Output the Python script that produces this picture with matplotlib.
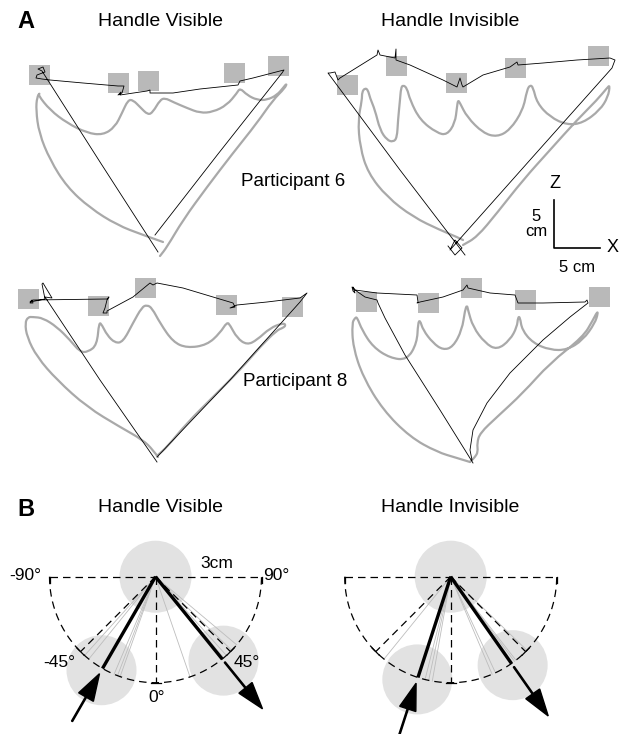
import numpy as np
import matplotlib
matplotlib.use("Agg")
import matplotlib.pyplot as plt
from matplotlib.patches import Rectangle, Circle, PathPatch
from matplotlib.path import Path

plt.rcParams['font.family'] = ['Liberation Sans', 'DejaVu Sans']

# ---------------- Panel A data (reference pixel frame) ----------------
# target squares (centres)
p6_vis_targets_x = [39, 118, 148, 234, 278]
p6_vis_targets_y = [75, 83, 81, 73, 66]
p6_inv_targets_x = [347, 396, 456, 515, 598]
p6_inv_targets_y = [85, 66, 83, 68, 56]
p8_vis_targets_x = [28, 98, 145, 226, 292]
p8_vis_targets_y = [299, 306, 288, 305, 307]
p8_inv_targets_x = [366, 428, 471, 525, 599]
p8_inv_targets_y = [302, 303, 288, 300, 297]

# black (handle) trajectories
p6_vis_black = [(158, 252), (100, 162), (42, 71), (38, 69), (43, 67), (45, 72), (37, 75), (36, 78),
                (42, 79), (50, 80), (83, 83), (118, 86), (124, 86), (122, 93), (118, 95), (121, 92),
                (120, 95), (147, 91), (150, 90), (150, 93), (173, 93), (200, 89), (238, 85), (240, 81),
                (253, 78), (280, 71), (284, 70), (282, 73), (218, 154), (155, 235)]
p6_inv_black = [(465, 255), (400, 170), (328, 73), (330, 73), (335, 72), (338, 80), (340, 78), (377, 55),
                (378, 50), (380, 55), (395, 58), (396, 49), (396, 60), (410, 65), (443, 80), (457, 87),
                (460, 78), (462, 85), (463, 87), (483, 75), (510, 67), (517, 62), (518, 65), (543, 63),
                (577, 60), (610, 58), (615, 60), (612, 68), (530, 160), (450, 250), (455, 240), (462, 248),
                (455, 255), (448, 246)]
p8_vis_black = [(157, 462), (100, 380), (45, 297), (52, 298), (43, 283), (42, 284), (45, 299), (30, 302),
                (32, 300), (33, 303), (30, 303), (33, 300), (107, 299), (109, 297), (107, 300), (105, 308),
                (103, 313), (107, 313), (107, 311), (133, 297), (150, 283), (153, 285), (157, 283),
                (183, 288), (213, 297), (233, 303), (235, 307), (230, 308), (237, 305), (267, 302),
                (300, 298), (307, 293), (300, 302), (230, 380), (157, 457)]
p8_inv_black = [(473, 463), (440, 410), (405, 355), (385, 318), (378, 303), (377, 300), (365, 297),
                (355, 290), (352, 287), (353, 291), (355, 293), (353, 287), (355, 290), (377, 293),
                (417, 295), (418, 302), (417, 303), (420, 302), (443, 297), (463, 290), (467, 285),
                (468, 288), (490, 293), (515, 295), (518, 303), (520, 303), (543, 303), (585, 302),
                (587, 300), (588, 303), (570, 317), (543, 340), (510, 373), (487, 403), (473, 430),
                (470, 450), (472, 460)]

# grey (hand) trajectories
p6_vis_gray = [(163, 242), (143, 235), (117, 225), (90, 208), (67, 187), (50, 160), (39, 133), (36, 110),
               (37, 97), (40, 93), (38, 95), (50, 110), (67, 123), (87, 133), (103, 135), (115, 127),
               (122, 113), (128, 100), (133, 100), (140, 107), (148, 115), (153, 112), (160, 100),
               (165, 98), (173, 102), (187, 108), (200, 113), (213, 112), (227, 105), (237, 93),
               (240, 88), (247, 95), (257, 100), (267, 100), (277, 95), (283, 88), (287, 83),
               (285, 88), (273, 100), (257, 123), (233, 153), (207, 187), (183, 220), (167, 247), (160, 256)]
p6_inv_gray = [(463, 240), (457, 237), (440, 230), (413, 217), (387, 197), (368, 173), (360, 147),
               (358, 120), (362, 100), (362, 92), (365, 88), (368, 90), (370, 98), (375, 110), (380, 130),
               (387, 140), (393, 142), (397, 138), (398, 120), (400, 100), (401, 88), (403, 85), (407, 88),
               (410, 100), (420, 120), (437, 133), (447, 135), (455, 123), (457, 107), (458, 100),
               (460, 103), (467, 117), (483, 133), (497, 137), (510, 130), (523, 110), (527, 90),
               (530, 85), (533, 87), (537, 103), (550, 117), (567, 125), (583, 123), (600, 110),
               (608, 97), (610, 85), (607, 88), (597, 100), (577, 120), (550, 150), (523, 180),
               (497, 213), (477, 237), (463, 245)]
p8_vis_gray = [(158, 457), (153, 450), (143, 440), (120, 427), (87, 407), (57, 380), (37, 357), (27, 337),
               (25, 323), (28, 317), (33, 317), (43, 318), (57, 327), (70, 340), (80, 352), (88, 352),
               (97, 345), (99, 322), (102, 325), (107, 335), (115, 343), (123, 342), (133, 323),
               (142, 307), (147, 305), (152, 308), (160, 323), (173, 342), (187, 348), (207, 345),
               (220, 333), (227, 322), (230, 325), (237, 338), (247, 345), (257, 340), (270, 328),
               (283, 323), (286, 325), (283, 328), (277, 330), (260, 347), (240, 370), (213, 397),
               (187, 423), (167, 447), (158, 455)]
p8_inv_gray = [(470, 462), (457, 458), (437, 452), (410, 437), (383, 410), (363, 377), (353, 347),
               (352, 323), (355, 318), (357, 317), (362, 330), (373, 347), (390, 358), (407, 360),
               (417, 343), (418, 323), (420, 320), (423, 330), (433, 343), (443, 350), (453, 347),
               (462, 330), (465, 310), (467, 305), (468, 310), (473, 327), (485, 343), (497, 350),
               (510, 340), (517, 327), (518, 317), (520, 317), (522, 330), (533, 343), (550, 350),
               (567, 350), (583, 340), (595, 323), (598, 313), (597, 312), (593, 320), (583, 337),
               (550, 363), (523, 393), (497, 417), (480, 433), (477, 443), (478, 452), (475, 457),
               (470, 462)]

# ---------------- Panel B data (angles in degrees, 0 = straight down) ----------------
vis_mean_angles = [-30, 39]
vis_trial_angles = [-42, -39, -23, -21, -19.5, 19, 40, 42, 46, 50]
inv_mean_angles = [-18, 35]
inv_trial_angles = [-39, -14, -12, -10, 23, 25, 37, 38, 46]
axis_angles = [-45, 0, 45]
axis_labels = ['-45°', '0°', '45°']

fig = plt.figure(figsize=(6.21, 7.34), dpi=100)
ax = fig.add_axes([0, 0, 1, 1])
ax.set_xlim(0, 621)
ax.set_ylim(734, 0)
ax.axis('off')

SQ = '#b9b9b9'
GR = '#a9a9a9'

def smooth_path(points):
    p = np.array(points, dtype=float)
    verts = [p[0]]
    codes = [Path.MOVETO]
    for i in range(1, len(p) - 1):
        mid = (p[i] + p[i + 1]) / 2
        verts += [p[i], mid]
        codes += [Path.CURVE3, Path.CURVE3]
    verts.append(p[-1])
    codes.append(Path.LINETO)
    return Path(verts, codes)

def draw_trial(tx, ty, black, gray):
    for x, y in zip(tx, ty):
        ax.add_patch(Rectangle((x - 10.5, y - 10), 21, 20, facecolor=SQ, edgecolor='none', zorder=1))
    ax.add_patch(PathPatch(smooth_path(gray), facecolor='none', edgecolor=GR, lw=1.6,
                           capstyle='round', joinstyle='round', zorder=2))
    b = np.array(black)
    ax.plot(b[:, 0], b[:, 1], color='black', lw=0.6, zorder=3)

draw_trial(p6_vis_targets_x, p6_vis_targets_y, p6_vis_black, p6_vis_gray)
draw_trial(p6_inv_targets_x, p6_inv_targets_y, p6_inv_black, p6_inv_gray)
draw_trial(p8_vis_targets_x, p8_vis_targets_y, p8_vis_black, p8_vis_gray)
draw_trial(p8_inv_targets_x, p8_inv_targets_y, p8_inv_black, p8_inv_gray)

# titles & labels for panel A
ax.text(17, 22, 'A', fontsize=17, fontweight='bold', ha='left', va='center')
ax.text(161, 22, 'Handle Visible', fontsize=14, ha='center', va='center')
ax.text(450, 22, 'Handle Invisible', fontsize=14, ha='center', va='center')
ax.text(293, 181, 'Participant 6', fontsize=13.5, ha='center', va='center')
ax.text(295, 381, 'Participant 8', fontsize=13.5, ha='center', va='center')

# scale bar
ax.plot([554, 554, 600], [200, 248, 248], color='black', lw=1.2, zorder=3)
ax.text(555, 183, 'Z', fontsize=13, ha='center', va='center')
ax.text(613, 247, 'X', fontsize=13, ha='center', va='center')
ax.text(577, 267, '5 cm', fontsize=12, ha='center', va='center')
ax.text(536, 224, '5\ncm', fontsize=12, ha='center', va='center', linespacing=1.0)

# ---------------- Panel B ----------------
R = 106

def pt(cx, cy, ang, r):
    a = np.deg2rad(ang)
    return cx + r * np.sin(a), cy + r * np.cos(a)

def draw_fan(cx, cy, means, trials, labels):
    dash = dict(color='black', lw=0.9, dashes=(6, 4), zorder=4)
    ax.add_patch(Circle((cx, cy), 36, facecolor='#e2e2e2', edgecolor='none', zorder=1))
    for m in means:
        x, y = pt(cx, cy, m, 108)
        ax.add_patch(Circle((x, y), 35, facecolor='#e2e2e2', edgecolor='none', zorder=1))
    th = np.linspace(-90, 90, 200)
    ax.plot(*pt(cx, cy, th, R), **dash)
    ax.plot([cx - R, cx + R], [cy, cy], **dash)
    for a in axis_angles:
        x, y = pt(cx, cy, a, R)
        ax.plot([cx, x], [cy, y], **dash)
        p = np.deg2rad(a)
        tx, ty = np.cos(p) * 5, -np.sin(p) * 5
        ax.plot([x - tx, x + tx], [y - ty, y + ty], color='black', lw=0.9, zorder=4)
    for s in (-1, 1):
        ax.plot([cx + s * R, cx + s * R], [cy, cy + 6], color='black', lw=0.9, zorder=4)
    for a in trials:
        x, y = pt(cx, cy, a, R)
        ax.plot([cx, x], [cy, y], color='#bdbdbd', lw=0.6, zorder=3)
    for m in means:
        x, y = pt(cx, cy, m, R)
        ax.plot([cx, x], [cy, y], color='black', lw=2.4, solid_capstyle='butt', zorder=5)
    m0, m1 = means
    x0, y0 = pt(cx, cy, m0, 167)
    x1, y1 = pt(cx, cy, m0, 112)
    ax.arrow(x0, y0, x1 - x0, y1 - y0, width=1.2, head_width=17, head_length=27,
             length_includes_head=True, color='black', zorder=6)
    x0, y0 = pt(cx, cy, m1, 110)
    x1, y1 = pt(cx, cy, m1, 170)
    ax.arrow(x0, y0, x1 - x0, y1 - y0, width=1.2, head_width=17, head_length=27,
             length_includes_head=True, color='black', zorder=6)
    if labels:
        ax.text(cx - R - 8, cy - 1, '-90°', fontsize=12.5, ha='right', va='center')
        ax.text(cx + R + 2, cy - 1, '90°', fontsize=12.5, ha='left', va='center')
        ax.text(cx + 61, cy - 13, '3cm', fontsize=12.5, ha='center', va='center')
        ax.text(cx - 96, cy + 86, axis_labels[0], fontsize=12.5, ha='center', va='center')
        ax.text(cx + 1, cy + 121, axis_labels[1], fontsize=12.5, ha='center', va='center')
        ax.text(cx + 91, cy + 86, axis_labels[2], fontsize=12.5, ha='center', va='center')

draw_fan(155.5, 576.7, vis_mean_angles, vis_trial_angles, True)
draw_fan(450.7, 576.7, inv_mean_angles, inv_trial_angles, False)

ax.text(17, 510, 'B', fontsize=17, fontweight='bold', ha='left', va='center')
ax.text(161, 508, 'Handle Visible', fontsize=14, ha='center', va='center')
ax.text(450, 508, 'Handle Invisible', fontsize=14, ha='center', va='center')

fig.savefig('out.png', dpi=100)
